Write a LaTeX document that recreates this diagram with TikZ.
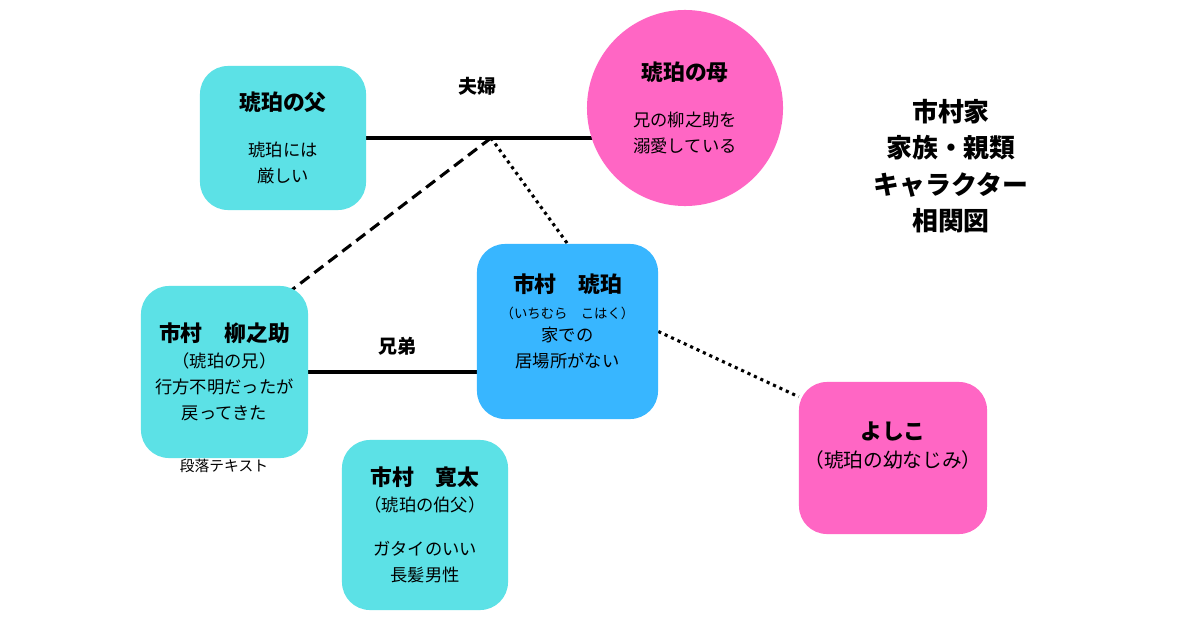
\documentclass[tikz,border=0pt]{standalone}
\usepackage{fontspec}
\setmainfont{Noto Sans CJK JP}
\usetikzlibrary{backgrounds,calc}
\definecolor{aqua}{HTML}{5CE1E6}
\definecolor{sky}{HTML}{38B6FF}
\definecolor{rose}{HTML}{FF66C4}
\newcommand\nm[1]{{\fontsize{15.5}{18.5}\selectfont\bfseries #1}}
\newcommand\yomi[1]{{\fontsize{9.5}{18.5}\selectfont #1}}

\begin{document}
\begin{tikzpicture}[x=0.025cm, y=-0.025cm,
  card/.style={rounded corners=0.7cm, inner sep=0pt, align=center,
    font=\fontsize{12.3}{18.5}\selectfont},
  tie/.style={line width=2.2pt},
  dotline/.style={tie, dash pattern=on 2.2pt off 2.8pt},
  dashline/.style={tie, dash pattern=on 8pt off 4.5pt},
  tag/.style={font=\fontsize{13.5}{16}\selectfont\bfseries}]
  \useasboundingbox (0,0) rectangle (1200,630);
  \node[card, fill=aqua, minimum width=4.15cm, minimum height=3.6cm] (father) at (283,138)
    {\nm{琥珀の父}\\[14pt]琥珀には\\厳しい};
  \node[card, circle, fill=rose, minimum size=4.9cm] (mother) at (685,108)
    {\nm{琥珀の母}\\[14pt]兄の柳之助を\\溺愛している};
  \node[card, fill=aqua, minimum width=4.175cm, minimum height=4.3cm] (ryu) at (224.5,372)
    {\nm{市村　柳之助}\\（琥珀の兄）\\行方不明だったが\\戻ってきた};
  \node[card, fill=sky, minimum width=4.525cm, minimum height=4.375cm] (kohaku) at (567.5,331.5)
    {\nm{市村　琥珀}\\\yomi{（いちむら　こはく）}\\[-2pt]家での\\居場所がない\\[-2.5pt]\mbox{}};
  \node[card, fill=aqua, minimum width=4.15cm, minimum height=4.25cm] (kanta) at (425,525)
    {\nm{市村　寛太}\\（琥珀の伯父）\\[13pt]ガタイのいい\\長髪男性};
  \node[card, fill=rose, minimum width=4.7cm, minimum height=3.8cm] (yoshiko) at (893,458)
    {\nm{よしこ}\\[1.5pt]{\fontsize{14}{18.5}\selectfont（琥珀の幼なじみ）}\\[1pt]\mbox{}};
  \node[align=center, font=\fontsize{18.4}{26}\selectfont\bfseries] (title) at (951,166)
    {市村家\\家族・親類\\キャラクター\\相関図};
  \node[tag] (fufu) at (477,86) {夫婦};
  \node[tag] (kyodai) at (397,346) {兄弟};
  \node[font=\fontsize{10.5}{12}\selectfont] (memo) at (224,466) {段落テキスト};
  \begin{scope}[on background layer]
    \fill[white] (0,0) rectangle (1200,630);
    \coordinate (wed) at (491,138);
    \draw[tie] (father.east) -- (father.east -| mother);
    \draw[dashline] (wed) -- ($(ryu.north east)+(-28,13)$);
    \draw[dotline] (wed) -- (kohaku.north);
    \draw[tie] (ryu.east) -- (ryu.east -| kohaku.west);
    \draw[dotline] (kohaku.east) -- (yoshiko.147);
  \end{scope}
\end{tikzpicture}
\end{document}
